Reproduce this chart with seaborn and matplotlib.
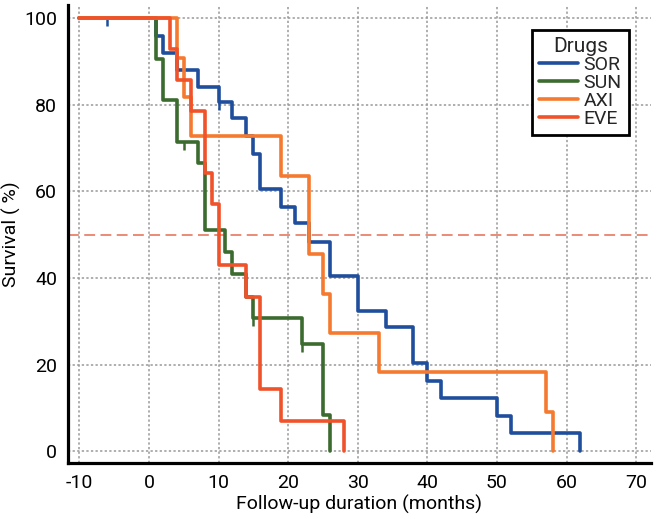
import numpy as np
import pandas as pd
import seaborn as sns
import matplotlib.pyplot as plt
from matplotlib.ticker import MultipleLocator

# Kaplan-Meier style survival curves per drug
drugs = ['SOR', 'SUN', 'AXI', 'EVE']
drug_colors = ['#1f4e9c', '#3b6b2e', '#f5792f', '#f0522a']

sor_time = [-10, 1, 2, 4, 7, 10, 12, 14, 15, 16, 19, 21, 23, 26, 30, 34, 38, 40, 42, 50, 52, 62]
sor_surv = [100, 96, 92, 88, 84, 80.7, 76.9, 72.8, 68.7, 60.6, 56.5, 52.6, 48.4, 40.5, 32.5, 28.6,
            20.4, 16.2, 12.2, 8.2, 4.1, 0]

sun_time = [-10, 1, 2, 4, 7, 8, 11, 12, 14, 15, 22, 25, 26]
sun_surv = [100, 90.5, 81, 71.4, 66.5, 51.1, 46.1, 40.9, 35.7, 30.7, 24.7, 8.4, 0]

axi_time = [-10, 4, 5, 6, 19, 23, 25, 26, 33, 57, 58]
axi_surv = [100, 90.9, 81.8, 72.7, 63.6, 45.5, 36.4, 27.3, 18.2, 9.1, 0]

eve_time = [-10, 3, 4, 6, 8, 9, 10, 14, 16, 19, 28]
eve_surv = [100, 92.9, 85.7, 78.6, 64.3, 57.1, 42.9, 35.7, 14.3, 7.1, 0]

# censored observations
sor_cens_time = [-6, 10]
sor_cens_surv = [100, 80.7]
sun_cens_time = [5, 15, 22]
sun_cens_surv = [71.4, 30.7, 24.7]

median_line = 50

frames = []
for name, t, s in zip(drugs, [sor_time, sun_time, axi_time, eve_time],
                      [sor_surv, sun_surv, axi_surv, eve_surv]):
    frames.append(pd.DataFrame({'time': t, 'surv': s, 'drug': name}))
df = pd.concat(frames, ignore_index=True)

sns.set_style('white')
plt.rcParams['font.family'] = ['Roboto', 'DejaVu Sans']
plt.rcParams['axes.unicode_minus'] = False

fig = plt.figure(figsize=(6.62, 5.19), dpi=100)
ax = fig.add_axes([0.103, 0.108, 0.88, 0.882])

ax.axhline(median_line, color='#e8826c', linestyle=(0, (6, 3)), linewidth=1.3, zorder=1)

sns.lineplot(data=df, x='time', y='surv', hue='drug', hue_order=drugs,
             palette=drug_colors, drawstyle='steps-post', estimator=None,
             linewidth=2.6, ax=ax, zorder=3)

ax.plot(sor_cens_time, sor_cens_surv, linestyle='none', marker=3, markersize=6,
        markeredgewidth=1.8, color=drug_colors[0], zorder=2)
ax.plot(sun_cens_time, sun_cens_surv, linestyle='none', marker=3, markersize=6,
        markeredgewidth=1.8, color=drug_colors[1], zorder=2)

ax.set_xlim(-11.6, 72.1)
ax.set_ylim(-2.7, 103)
ax.xaxis.set_major_locator(MultipleLocator(10))
ax.xaxis.set_minor_locator(MultipleLocator(5))
ax.yaxis.set_major_locator(MultipleLocator(20))
ax.yaxis.set_minor_locator(MultipleLocator(10))
ax.grid(True, which='major', color='#999999', linestyle=(0, (1.5, 1.5)), linewidth=1.1)
ax.set_axisbelow(True)

ax.tick_params(which='major', direction='in', length=8, width=2.2, labelsize=14, pad=8,
               labelcolor='black')
ax.tick_params(which='minor', direction='in', length=5, width=1.5)
for side in ['top', 'right']:
    ax.spines[side].set_visible(False)
for side in ['left', 'bottom']:
    ax.spines[side].set_linewidth(2.3)
    ax.spines[side].set_color('black')

ax.set_xlabel('Follow-up duration (months)', fontsize=14, labelpad=2, color='black')
ax.set_ylabel('Survival ( %)', fontsize=14, labelpad=2, color='black')

sns.move_legend(ax, 'upper right', bbox_to_anchor=(0.962, 0.945), borderaxespad=0,
                title='Drugs', fontsize=14, title_fontsize=15, frameon=True,
                fancybox=False, framealpha=1, edgecolor='black',
                handlelength=2.0, labelspacing=0.0, borderpad=0.35, handletextpad=0.3)
leg = ax.get_legend()
leg.get_frame().set_linewidth(2)
for line in leg.get_lines():
    line.set_linewidth(2.6)

fig.savefig('out.png', dpi=100)
